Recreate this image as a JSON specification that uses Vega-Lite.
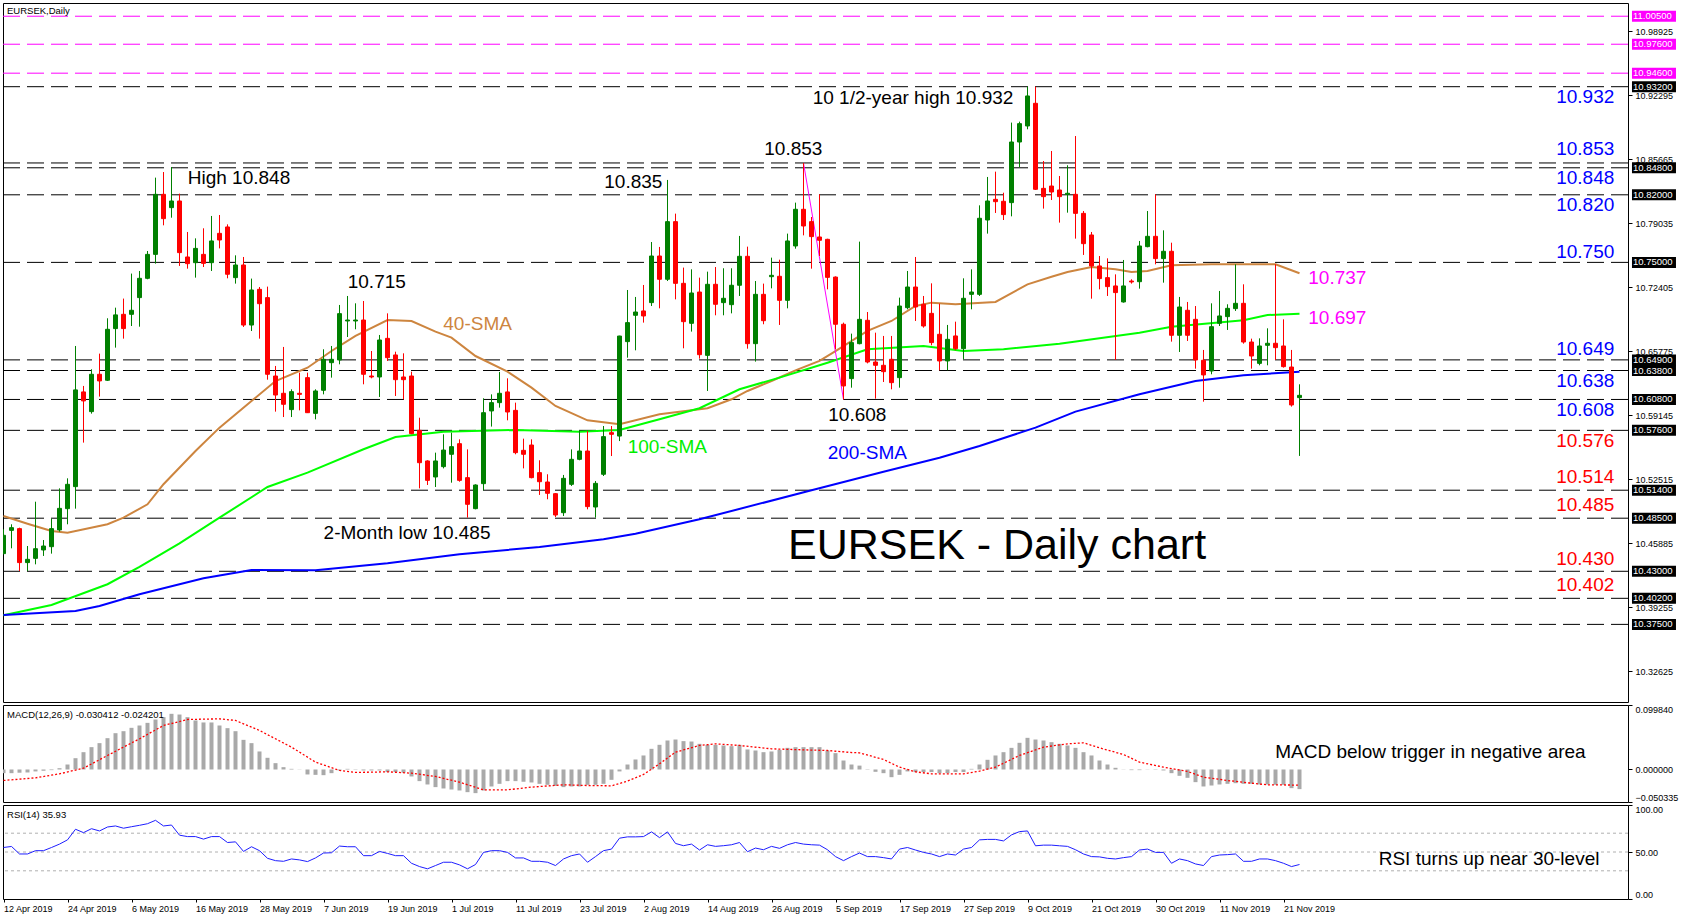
{
"$schema": "https://vega.github.io/schema/vega-lite/v6.json",
"padding": {"left": 2, "top": 2, "right": 0, "bottom": 0},
"background": "white",
"spacing": 3,
"bounds": "flush",
"config": {
  "view": {"stroke": "#000000", "strokeWidth": 1},
  "font": "Liberation Sans",
  "axis": {"labelFont": "Liberation Sans", "labelColor": "#000000", "tickColor": "#000000", "grid": false, "domain": false, "labelFontSize": 9}
},
"datasets": {
  "candles": [
{"i":0,"o":10.4483,"h":10.4735,"l":10.4476,"c":10.4673},
{"i":1,"o":10.4724,"h":10.4787,"l":10.4538,"c":10.4752},
{"i":2,"o":10.4742,"h":10.4752,"l":10.4303,"c":10.4390},
{"i":3,"o":10.4390,"h":10.4562,"l":10.4303,"c":10.4424},
{"i":4,"o":10.4434,"h":10.5021,"l":10.4372,"c":10.4534},
{"i":5,"o":10.4521,"h":10.4624,"l":10.4459,"c":10.4562},
{"i":6,"o":10.4555,"h":10.4845,"l":10.4483,"c":10.4742},
{"i":7,"o":10.4728,"h":10.5159,"l":10.4711,"c":10.4952},
{"i":8,"o":10.4949,"h":10.5263,"l":10.4787,"c":10.5201},
{"i":9,"o":10.5177,"h":10.6634,"l":10.4949,"c":10.6179},
{"i":10,"o":10.6158,"h":10.6220,"l":10.5633,"c":10.6065},
{"i":11,"o":10.5954,"h":10.6393,"l":10.5933,"c":10.6341},
{"i":12,"o":10.6341,"h":10.6555,"l":10.6110,"c":10.6272},
{"i":13,"o":10.6279,"h":10.6921,"l":10.6272,"c":10.6807},
{"i":14,"o":10.6814,"h":10.7031,"l":10.6617,"c":10.6956},
{"i":15,"o":10.6962,"h":10.7125,"l":10.6710,"c":10.6814},
{"i":16,"o":10.6962,"h":10.7384,"l":10.6841,"c":10.7004},
{"i":17,"o":10.7135,"h":10.7411,"l":10.6834,"c":10.7335},
{"i":18,"o":10.7335,"h":10.7618,"l":10.7325,"c":10.7583},
{"i":19,"o":10.7583,"h":10.8378,"l":10.7487,"c":10.8205},
{"i":20,"o":10.8205,"h":10.8436,"l":10.7884,"c":10.7953},
{"i":21,"o":10.8067,"h":10.8488,"l":10.7963,"c":10.8136},
{"i":22,"o":10.8136,"h":10.8212,"l":10.7463,"c":10.7601},
{"i":23,"o":10.7556,"h":10.7815,"l":10.7435,"c":10.7487},
{"i":24,"o":10.7497,"h":10.7749,"l":10.7342,"c":10.7645},
{"i":25,"o":10.7583,"h":10.7853,"l":10.7452,"c":10.7490},
{"i":26,"o":10.7497,"h":10.7981,"l":10.7411,"c":10.7722},
{"i":27,"o":10.7801,"h":10.7991,"l":10.7645,"c":10.7732},
{"i":28,"o":10.7867,"h":10.7894,"l":10.7335,"c":10.7377},
{"i":29,"o":10.7342,"h":10.7573,"l":10.7280,"c":10.7473},
{"i":30,"o":10.7473,"h":10.7556,"l":10.6831,"c":10.6851},
{"i":31,"o":10.6851,"h":10.7332,"l":10.6789,"c":10.7214},
{"i":32,"o":10.7221,"h":10.7245,"l":10.6710,"c":10.7072},
{"i":33,"o":10.7135,"h":10.7249,"l":10.6285,"c":10.6341},
{"i":34,"o":10.6323,"h":10.6427,"l":10.5954,"c":10.6126},
{"i":35,"o":10.6144,"h":10.6624,"l":10.5898,"c":10.6030},
{"i":36,"o":10.5975,"h":10.6185,"l":10.5898,"c":10.6161},
{"i":37,"o":10.6144,"h":10.6358,"l":10.5967,"c":10.6133},
{"i":38,"o":10.6306,"h":10.6358,"l":10.5940,"c":10.5943},
{"i":39,"o":10.5936,"h":10.6185,"l":10.5874,"c":10.6168},
{"i":40,"o":10.6175,"h":10.6600,"l":10.6133,"c":10.6496},
{"i":41,"o":10.6461,"h":10.6634,"l":10.6306,"c":10.6496},
{"i":42,"o":10.6489,"h":10.7059,"l":10.6444,"c":10.6969},
{"i":43,"o":10.6893,"h":10.7152,"l":10.6727,"c":10.6903},
{"i":44,"o":10.6893,"h":10.7076,"l":10.6807,"c":10.6903},
{"i":45,"o":10.6903,"h":10.7100,"l":10.6237,"c":10.6341},
{"i":46,"o":10.6323,"h":10.6582,"l":10.6299,"c":10.6313},
{"i":47,"o":10.6313,"h":10.6748,"l":10.6106,"c":10.6696},
{"i":48,"o":10.6713,"h":10.6972,"l":10.6479,"c":10.6513},
{"i":49,"o":10.6541,"h":10.6575,"l":10.6116,"c":10.6285},
{"i":50,"o":10.6313,"h":10.6558,"l":10.6081,"c":10.6285},
{"i":51,"o":10.6323,"h":10.6368,"l":10.5720,"c":10.5726},
{"i":52,"o":10.5760,"h":10.5891,"l":10.5159,"c":10.5425},
{"i":53,"o":10.5443,"h":10.5450,"l":10.5194,"c":10.5242},
{"i":54,"o":10.5277,"h":10.5529,"l":10.5173,"c":10.5443},
{"i":55,"o":10.5384,"h":10.5719,"l":10.5366,"c":10.5556},
{"i":56,"o":10.5512,"h":10.5736,"l":10.5218,"c":10.5591},
{"i":57,"o":10.5622,"h":10.5667,"l":10.5228,"c":10.5242},
{"i":58,"o":10.5270,"h":10.5563,"l":10.4856,"c":10.4994},
{"i":59,"o":10.4949,"h":10.5201,"l":10.4942,"c":10.5194},
{"i":60,"o":10.5208,"h":10.6092,"l":10.5139,"c":10.5943},
{"i":61,"o":10.5961,"h":10.6133,"l":10.5799,"c":10.6047},
{"i":62,"o":10.6047,"h":10.6365,"l":10.5995,"c":10.6144},
{"i":63,"o":10.6158,"h":10.6299,"l":10.5864,"c":10.5950},
{"i":64,"o":10.5967,"h":10.6047,"l":10.5512,"c":10.5529},
{"i":65,"o":10.5553,"h":10.5674,"l":10.5366,"c":10.5512},
{"i":66,"o":10.5608,"h":10.5667,"l":10.5263,"c":10.5270},
{"i":67,"o":10.5322,"h":10.5450,"l":10.5091,"c":10.5228},
{"i":68,"o":10.5225,"h":10.5305,"l":10.5046,"c":10.5108},
{"i":69,"o":10.5104,"h":10.5110,"l":10.4862,"c":10.4883},
{"i":70,"o":10.4907,"h":10.5298,"l":10.4873,"c":10.5263},
{"i":71,"o":10.5201,"h":10.5563,"l":10.5184,"c":10.5460},
{"i":72,"o":10.5460,"h":10.5760,"l":10.5450,"c":10.5546},
{"i":73,"o":10.5546,"h":10.5753,"l":10.4942,"c":10.4970},
{"i":74,"o":10.4966,"h":10.5235,"l":10.4856,"c":10.5211},
{"i":75,"o":10.5305,"h":10.5805,"l":10.5287,"c":10.5695},
{"i":76,"o":10.5736,"h":10.5805,"l":10.5494,"c":10.5719},
{"i":77,"o":10.5701,"h":10.6740,"l":10.5649,"c":10.6737},
{"i":78,"o":10.6679,"h":10.7214,"l":10.6513,"c":10.6876},
{"i":79,"o":10.6952,"h":10.7142,"l":10.6589,"c":10.6986},
{"i":80,"o":10.6997,"h":10.7266,"l":10.6876,"c":10.6945},
{"i":81,"o":10.7083,"h":10.7711,"l":10.7048,"c":10.7566},
{"i":82,"o":10.7566,"h":10.7660,"l":10.7024,"c":10.7325},
{"i":83,"o":10.7325,"h":10.8354,"l":10.7307,"c":10.7922},
{"i":84,"o":10.7922,"h":10.8005,"l":10.7117,"c":10.7283},
{"i":85,"o":10.7283,"h":10.7446,"l":10.6610,"c":10.6886},
{"i":86,"o":10.6869,"h":10.7428,"l":10.6783,"c":10.7183},
{"i":87,"o":10.7193,"h":10.7342,"l":10.6503,"c":10.6544},
{"i":88,"o":10.6537,"h":10.7404,"l":10.6168,"c":10.7273},
{"i":89,"o":10.7273,"h":10.7452,"l":10.6952,"c":10.7066},
{"i":90,"o":10.7083,"h":10.7439,"l":10.6952,"c":10.7128},
{"i":91,"o":10.7062,"h":10.7439,"l":10.6972,"c":10.7263},
{"i":92,"o":10.7263,"h":10.7774,"l":10.7152,"c":10.7563},
{"i":93,"o":10.7563,"h":10.7663,"l":10.6606,"c":10.6658},
{"i":94,"o":10.6658,"h":10.7307,"l":10.6472,"c":10.7169},
{"i":95,"o":10.7169,"h":10.7280,"l":10.6859,"c":10.6896},
{"i":96,"o":10.7352,"h":10.7549,"l":10.7231,"c":10.7366},
{"i":97,"o":10.7356,"h":10.7528,"l":10.6852,"c":10.7107},
{"i":98,"o":10.7107,"h":10.7798,"l":10.7024,"c":10.7722},
{"i":99,"o":10.7670,"h":10.8119,"l":10.7642,"c":10.8050},
{"i":100,"o":10.8050,"h":10.8530,"l":10.7780,"c":10.7877},
{"i":101,"o":10.7922,"h":10.7970,"l":10.7435,"c":10.7767},
{"i":102,"o":10.7763,"h":10.8205,"l":10.7566,"c":10.7729},
{"i":103,"o":10.7739,"h":10.7745,"l":10.7221,"c":10.7345},
{"i":104,"o":10.7348,"h":10.7355,"l":10.6600,"c":10.6859},
{"i":105,"o":10.6859,"h":10.6876,"l":10.6080,"c":10.6220},
{"i":106,"o":10.6296,"h":10.6762,"l":10.6202,"c":10.6669},
{"i":107,"o":10.6658,"h":10.7715,"l":10.6651,"c":10.6910},
{"i":108,"o":10.6900,"h":10.6986,"l":10.6454,"c":10.6468},
{"i":109,"o":10.6468,"h":10.6772,"l":10.6088,"c":10.6434},
{"i":110,"o":10.6434,"h":10.6738,"l":10.6261,"c":10.6368},
{"i":111,"o":10.6496,"h":10.6738,"l":10.6185,"c":10.6254},
{"i":112,"o":10.6306,"h":10.7135,"l":10.6202,"c":10.7048},
{"i":113,"o":10.7031,"h":10.7411,"l":10.7014,"c":10.7245},
{"i":114,"o":10.7245,"h":10.7556,"l":10.6893,"c":10.7038},
{"i":115,"o":10.7066,"h":10.7152,"l":10.6824,"c":10.6841},
{"i":116,"o":10.6972,"h":10.7283,"l":10.6641,"c":10.6669},
{"i":117,"o":10.6755,"h":10.7073,"l":10.6382,"c":10.6479},
{"i":118,"o":10.6479,"h":10.6852,"l":10.6382,"c":10.6703},
{"i":119,"o":10.6738,"h":10.6886,"l":10.6589,"c":10.6606},
{"i":120,"o":10.6606,"h":10.7335,"l":10.6496,"c":10.7128},
{"i":121,"o":10.7169,"h":10.7428,"l":10.7014,"c":10.7193},
{"i":122,"o":10.7169,"h":10.8091,"l":10.7152,"c":10.7957},
{"i":123,"o":10.7939,"h":10.8385,"l":10.7798,"c":10.8136},
{"i":124,"o":10.8153,"h":10.8440,"l":10.8012,"c":10.8129},
{"i":125,"o":10.8133,"h":10.8222,"l":10.7939,"c":10.7995},
{"i":126,"o":10.8119,"h":10.8948,"l":10.7977,"c":10.8747},
{"i":127,"o":10.8747,"h":10.8958,"l":10.8488,"c":10.8937},
{"i":128,"o":10.8913,"h":10.9320,"l":10.8879,"c":10.9224},
{"i":129,"o":10.9148,"h":10.9320,"l":10.8250,"c":10.8257},
{"i":130,"o":10.8267,"h":10.8550,"l":10.8057,"c":10.8181},
{"i":131,"o":10.8291,"h":10.8654,"l":10.8146,"c":10.8229},
{"i":132,"o":10.8250,"h":10.8395,"l":10.7912,"c":10.8181},
{"i":133,"o":10.8205,"h":10.8506,"l":10.8015,"c":10.8216},
{"i":134,"o":10.8205,"h":10.8809,"l":10.7746,"c":10.8008},
{"i":135,"o":10.8008,"h":10.8032,"l":10.7577,"c":10.7694},
{"i":136,"o":10.7784,"h":10.7815,"l":10.7124,"c":10.7463},
{"i":137,"o":10.7463,"h":10.7566,"l":10.7221,"c":10.7332},
{"i":138,"o":10.7342,"h":10.7542,"l":10.7152,"c":10.7249},
{"i":139,"o":10.7256,"h":10.7376,"l":10.6489,"c":10.7187},
{"i":140,"o":10.7090,"h":10.7525,"l":10.7083,"c":10.7256},
{"i":141,"o":10.7307,"h":10.7325,"l":10.7280,"c":10.7297},
{"i":142,"o":10.7300,"h":10.7722,"l":10.7228,"c":10.7670},
{"i":143,"o":10.7663,"h":10.8032,"l":10.7656,"c":10.7770},
{"i":144,"o":10.7770,"h":10.8205,"l":10.7480,"c":10.7539},
{"i":145,"o":10.7539,"h":10.7832,"l":10.7290,"c":10.7615},
{"i":146,"o":10.7615,"h":10.7704,"l":10.6679,"c":10.6745},
{"i":147,"o":10.6745,"h":10.7142,"l":10.6572,"c":10.7038},
{"i":148,"o":10.7004,"h":10.7090,"l":10.6686,"c":10.6745},
{"i":149,"o":10.6910,"h":10.7048,"l":10.6399,"c":10.6489},
{"i":150,"o":10.6486,"h":10.6593,"l":10.6057,"c":10.6334},
{"i":151,"o":10.6375,"h":10.7076,"l":10.6341,"c":10.6834},
{"i":152,"o":10.6869,"h":10.7204,"l":10.6841,"c":10.6945},
{"i":153,"o":10.6938,"h":10.7066,"l":10.6800,"c":10.7024},
{"i":154,"o":10.7021,"h":10.7480,"l":10.6997,"c":10.7076},
{"i":155,"o":10.7076,"h":10.7273,"l":10.6658,"c":10.6675},
{"i":156,"o":10.6675,"h":10.6710,"l":10.6399,"c":10.6530},
{"i":157,"o":10.6454,"h":10.6713,"l":10.6434,"c":10.6634},
{"i":158,"o":10.6641,"h":10.6817,"l":10.6434,"c":10.6662},
{"i":159,"o":10.6662,"h":10.7480,"l":10.6489,"c":10.6617},
{"i":160,"o":10.6634,"h":10.6910,"l":10.6410,"c":10.6420},
{"i":161,"o":10.6416,"h":10.6593,"l":10.6006,"c":10.6023},
{"i":162,"o":10.6099,"h":10.6237,"l":10.5495,"c":10.6123}
  ],
  "sma": [
{"s":"40","i":0,"v":10.4873},{"s":"40","i":3,"v":10.4793},{"s":"40","i":6,"v":10.4718},{"s":"40","i":8,"v":10.4700},{"s":"40","i":13,"v":10.4787},{"s":"40","i":15,"v":10.4855},{"s":"40","i":18,"v":10.4994},{"s":"40","i":20,"v":10.5202},{"s":"40","i":24,"v":10.5546},{"s":"40","i":27,"v":10.5788},{"s":"40","i":31,"v":10.6064},{"s":"40","i":34,"v":10.6271},{"s":"40","i":38,"v":10.6409},{"s":"40","i":41,"v":10.6582},{"s":"40","i":44,"v":10.6738},{"s":"40","i":48,"v":10.6903},{"s":"40","i":51,"v":10.6893},{"s":"40","i":54,"v":10.6782},{"s":"40","i":56,"v":10.6720},{"s":"40","i":59,"v":10.6530},{"s":"40","i":63,"v":10.6368},{"s":"40","i":66,"v":10.6202},{"s":"40","i":69,"v":10.6013},{"s":"40","i":73,"v":10.5864},{"s":"40","i":77,"v":10.5823},{"s":"40","i":82,"v":10.5926},{"s":"40","i":88,"v":10.5989},{"s":"40","i":91,"v":10.6082},{"s":"40","i":93,"v":10.6168},{"s":"40","i":96,"v":10.6271},{"s":"40","i":99,"v":10.6382},{"s":"40","i":102,"v":10.6479},{"s":"40","i":104,"v":10.6580},{"s":"40","i":108,"v":10.6790},{"s":"40","i":111,"v":10.6893},{"s":"40","i":114,"v":10.7048},{"s":"40","i":116,"v":10.7083},{"s":"40","i":119,"v":10.7066},{"s":"40","i":124,"v":10.7090},{"s":"40","i":128,"v":10.7273},{"s":"40","i":131,"v":10.7352},{"s":"40","i":133,"v":10.7401},{"s":"40","i":136,"v":10.7452},{"s":"40","i":139,"v":10.7429},{"s":"40","i":141,"v":10.7401},{"s":"40","i":143,"v":10.7411},{"s":"40","i":146,"v":10.7470},{"s":"40","i":151,"v":10.7480},{"s":"40","i":155,"v":10.7480},{"s":"40","i":159,"v":10.7480},{"s":"40","i":162,"v":10.7387},
{"s":"100","i":0,"v":10.3844},{"s":"100","i":6,"v":10.3951},{"s":"100","i":13,"v":10.4166},{"s":"100","i":17,"v":10.4345},{"s":"100","i":22,"v":10.4590},{"s":"100","i":27,"v":10.4855},{"s":"100","i":33,"v":10.5173},{"s":"100","i":38,"v":10.5322},{"s":"100","i":45,"v":10.5564},{"s":"100","i":49,"v":10.5691},{"s":"100","i":55,"v":10.5746},{"s":"100","i":64,"v":10.5764},{"s":"100","i":72,"v":10.5746},{"s":"100","i":77,"v":10.5764},{"s":"100","i":82,"v":10.5875},{"s":"100","i":87,"v":10.5989},{"s":"100","i":92,"v":10.6186},{"s":"100","i":97,"v":10.6306},{"s":"100","i":103,"v":10.6461},{"s":"100","i":108,"v":10.6600},{"s":"100","i":115,"v":10.6634},{"s":"100","i":120,"v":10.6582},{"s":"100","i":125,"v":10.6600},{"s":"100","i":132,"v":10.6658},{"s":"100","i":142,"v":10.6772},{"s":"100","i":146,"v":10.6834},{"s":"100","i":155,"v":10.6900},{"s":"100","i":158,"v":10.6955},{"s":"100","i":162,"v":10.6969},
{"s":"200","i":0,"v":10.3848},{"s":"200","i":9,"v":10.3889},{"s":"200","i":12,"v":10.3941},{"s":"200","i":17,"v":10.4062},{"s":"200","i":25,"v":10.4228},{"s":"200","i":31,"v":10.4314},{"s":"200","i":39,"v":10.4311},{"s":"200","i":48,"v":10.4383},{"s":"200","i":57,"v":10.4476},{"s":"200","i":67,"v":10.4552},{"s":"200","i":75,"v":10.4632},{"s":"200","i":79,"v":10.4690},{"s":"200","i":87,"v":10.4839},{"s":"200","i":101,"v":10.5139},{"s":"200","i":110,"v":10.5332},{"s":"200","i":117,"v":10.5477},{"s":"200","i":122,"v":10.5598},{"s":"200","i":129,"v":10.5788},{"s":"200","i":134,"v":10.5954},{"s":"200","i":142,"v":10.6134},{"s":"200","i":149,"v":10.6271},{"s":"200","i":155,"v":10.6331},{"s":"200","i":162,"v":10.6368}
  ],
  "trend": [{"i":100,"v":10.853},{"i":105,"v":10.608}],
  "levels": [
{"v":11.005,"k":"mag"},{"v":10.976,"k":"mag"},{"v":10.946,"k":"mag"},
{"v":10.932,"k":"lvl"},{"v":10.853,"k":"lvl"},{"v":10.848,"k":"lvl"},{"v":10.82,"k":"lvl"},{"v":10.75,"k":"lvl"},{"v":10.649,"k":"lvl"},{"v":10.638,"k":"lvl"},{"v":10.608,"k":"lvl"},{"v":10.576,"k":"lvl"},{"v":10.514,"k":"lvl"},{"v":10.485,"k":"lvl"},{"v":10.43,"k":"lvl"},{"v":10.402,"k":"lvl"},{"v":10.375,"k":"lvl"}
  ],
  "notes": [
{"i":23.03,"v":10.8309,"t":"High 10.848","k":"n"},
{"i":43.03,"v":10.7232,"t":"10.715","k":"n"},
{"i":54.97,"v":10.6797,"t":"40-SMA","k":"s40"},
{"i":75.1,"v":10.8274,"t":"10.835","k":"n"},
{"i":78.03,"v":10.5529,"t":"100-SMA","k":"s100"},
{"i":95.1,"v":10.8609,"t":"10.853","k":"n"},
{"i":101.15,"v":10.9138,"t":"10 1/2-year high 10.932","k":"n"},
{"i":103.1,"v":10.5857,"t":"10.608","k":"n"},
{"i":103.03,"v":10.546,"t":"200-SMA","k":"s200"},
{"i":40.01,"v":10.4632,"t":"2-Month low 10.485","k":"n"},
{"i":163.1,"v":10.7279,"t":"10.737","k":"m"},
{"i":163.1,"v":10.6859,"t":"10.697","k":"m"}
  ],
  "rlabels": [
{"v":10.9154,"t":"10.932","k":"r"},{"v":10.8609,"t":"10.853","k":"r"},{"v":10.8315,"t":"10.848","k":"r"},{"v":10.8032,"t":"10.820","k":"r"},{"v":10.7549,"t":"10.750","k":"r"},{"v":10.6538,"t":"10.649","k":"r"},{"v":10.6209,"t":"10.638","k":"r"},{"v":10.5909,"t":"10.608","k":"r"},
{"v":10.5588,"t":"10.576","k":"s"},{"v":10.5212,"t":"10.514","k":"s"},{"v":10.4925,"t":"10.485","k":"s"},{"v":10.4363,"t":"10.430","k":"s"},{"v":10.4096,"t":"10.402","k":"s"}
  ],
  "macd": [
{"i":0,"h":-0.0057},{"i":1,"h":-0.0057},{"i":2,"h":-0.005},{"i":3,"h":-0.0046},{"i":4,"h":-0.003},{"i":5,"h":-0.002},{"i":6,"h":-0.001},{"i":7,"h":0.002},{"i":8,"h":0.0077},{"i":9,"h":0.0175},
{"i":10,"h":0.0268},{"i":11,"h":0.0346},{"i":12,"h":0.0408},{"i":13,"h":0.0485},{"i":14,"h":0.0562},{"i":15,"h":0.0593},{"i":16,"h":0.0645},{"i":17,"h":0.0681},{"i":18,"h":0.0722},{"i":19,"h":0.0774},
{"i":20,"h":0.081},{"i":21,"h":0.0862},{"i":22,"h":0.0851},{"i":23,"h":0.081},{"i":24,"h":0.0759},{"i":25,"h":0.0728},{"i":26,"h":0.0728},{"i":27,"h":0.0681},{"i":28,"h":0.064},{"i":29,"h":0.0593},
{"i":30,"h":0.0459},{"i":31,"h":0.0408},{"i":32,"h":0.0279},{"i":33,"h":0.0181},{"i":34,"h":0.0098},{"i":35,"h":0.0036},{"i":36,"h":0.001},{"i":37,"h":0.0003},{"i":38,"h":-0.0077},{"i":39,"h":-0.0083},
{"i":40,"h":-0.0088},{"i":41,"h":-0.0057},{"i":42,"h":-0.0015},{"i":43,"h":0.001},{"i":44,"h":0.0005},{"i":45,"h":-0.0015},{"i":46,"h":-0.0015},{"i":47,"h":-0.0015},{"i":48,"h":-0.004},{"i":49,"h":-0.004},
{"i":50,"h":-0.005},{"i":51,"h":-0.0108},{"i":52,"h":-0.018},{"i":53,"h":-0.0232},{"i":54,"h":-0.0273},{"i":55,"h":-0.0294},{"i":56,"h":-0.031},{"i":57,"h":-0.0325},{"i":58,"h":-0.0351},{"i":59,"h":-0.0366},
{"i":60,"h":-0.0325},{"i":61,"h":-0.0263},{"i":62,"h":-0.0222},{"i":63,"h":-0.018},{"i":64,"h":-0.018},{"i":65,"h":-0.019},{"i":66,"h":-0.0201},{"i":67,"h":-0.0222},{"i":68,"h":-0.0237},{"i":69,"h":-0.0253},
{"i":70,"h":-0.0273},{"i":71,"h":-0.0263},{"i":72,"h":-0.0263},{"i":73,"h":-0.0237},{"i":74,"h":-0.0237},{"i":75,"h":-0.0222},{"i":76,"h":-0.016},{"i":77,"h":-0.003},{"i":78,"h":0.0077},{"i":79,"h":0.0155},
{"i":80,"h":0.0217},{"i":81,"h":0.032},{"i":82,"h":0.0382},{"i":83,"h":0.0449},{"i":84,"h":0.0464},{"i":85,"h":0.0439},{"i":86,"h":0.0433},{"i":87,"h":0.0397},{"i":88,"h":0.0382},{"i":89,"h":0.0382},
{"i":90,"h":0.0372},{"i":91,"h":0.0361},{"i":92,"h":0.0382},{"i":93,"h":0.031},{"i":94,"h":0.0294},{"i":95,"h":0.0268},{"i":96,"h":0.0279},{"i":97,"h":0.0304},{"i":98,"h":0.0335},{"i":99,"h":0.0346},
{"i":100,"h":0.0346},{"i":101,"h":0.0346},{"i":102,"h":0.0346},{"i":103,"h":0.0294},{"i":104,"h":0.0253},{"i":105,"h":0.0139},{"i":106,"h":0.0077},{"i":107,"h":0.006},{"i":108,"h":0.0005},{"i":109,"h":-0.0036},
{"i":110,"h":-0.0057},{"i":111,"h":-0.0119},{"i":112,"h":-0.0083},{"i":113,"h":-0.003},{"i":114,"h":-0.004},{"i":115,"h":-0.004},{"i":116,"h":-0.004},{"i":117,"h":-0.0057},{"i":118,"h":-0.0057},{"i":119,"h":-0.004},
{"i":120,"h":-0.004},{"i":121,"h":0.001},{"i":122,"h":0.0077},{"i":123,"h":0.015},{"i":124,"h":0.0217},{"i":125,"h":0.0268},{"i":126,"h":0.0335},{"i":127,"h":0.0413},{"i":128,"h":0.049},{"i":129,"h":0.0464},
{"i":130,"h":0.0449},{"i":131,"h":0.0423},{"i":132,"h":0.0397},{"i":133,"h":0.0372},{"i":134,"h":0.0335},{"i":135,"h":0.0268},{"i":136,"h":0.0217},{"i":137,"h":0.0139},{"i":138,"h":0.0077},{"i":139,"h":0.0026},
{"i":140,"h":0.0003},{"i":141,"h":-0.001},{"i":142,"h":-0.001},{"i":143,"h":0.0003},{"i":144,"h":-0.0005},{"i":145,"h":-0.0015},{"i":146,"h":-0.0057},{"i":147,"h":-0.0098},{"i":148,"h":-0.0129},{"i":149,"h":-0.0196},
{"i":150,"h":-0.0263},{"i":151,"h":-0.0248},{"i":152,"h":-0.0232},{"i":153,"h":-0.0222},{"i":154,"h":-0.0212},{"i":155,"h":-0.0222},{"i":156,"h":-0.0222},{"i":157,"h":-0.0232},{"i":158,"h":-0.0232},{"i":159,"h":-0.0237},
{"i":160,"h":-0.0237},{"i":161,"h":-0.0289},{"i":162,"h":-0.0304}
  ],
  "signal": [
{"i":0,"s":-0.017},{"i":4,"s":-0.0129},{"i":7,"s":-0.0067},{"i":10,"s":0.002},{"i":13,"s":0.0217},{"i":17,"s":0.0475},{"i":20,"s":0.0681},{"i":23,"s":0.0774},{"i":27,"s":0.0784},{"i":29,"s":0.0759},{"i":32,"s":0.0604},{"i":36,"s":0.0346},{"i":39,"s":0.0114},{"i":42,"s":-0.0015},{"i":44,"s":-0.0046},{"i":48,"s":-0.0036},{"i":51,"s":-0.0057},{"i":54,"s":-0.0108},{"i":57,"s":-0.0196},{"i":60,"s":-0.0315},{"i":63,"s":-0.0315},{"i":66,"s":-0.0273},{"i":70,"s":-0.0237},{"i":73,"s":-0.0248},{"i":76,"s":-0.0253},{"i":78,"s":-0.018},{"i":80,"s":-0.0077},{"i":82,"s":0.0088},{"i":84,"s":0.0268},{"i":87,"s":0.0372},{"i":89,"s":0.0397},{"i":92,"s":0.0372},{"i":96,"s":0.032},{"i":100,"s":0.0304},{"i":103,"s":0.0294},{"i":106,"s":0.0263},{"i":107,"s":0.0258},{"i":110,"s":0.0155},{"i":112,"s":0.0036},{"i":114,"s":-0.0036},{"i":116,"s":-0.0067},{"i":120,"s":-0.0067},{"i":122,"s":-0.0026},{"i":124,"s":0.0036},{"i":127,"s":0.0217},{"i":130,"s":0.0346},{"i":133,"s":0.0397},{"i":135,"s":0.0413},{"i":137,"s":0.0335},{"i":140,"s":0.0232},{"i":142,"s":0.0114},{"i":145,"s":0.0036},{"i":148,"s":-0.003},{"i":150,"s":-0.0119},{"i":153,"s":-0.017},{"i":156,"s":-0.0212},{"i":158,"s":-0.0237},{"i":162,"s":-0.0242}
  ],
  "rsi": [
{"i":0,"r":54.8},{"i":1,"r":55.9},{"i":2,"r":47.9},{"i":3,"r":47.9},{"i":4,"r":51.4},{"i":5,"r":51.4},{"i":6,"r":54.8},{"i":7,"r":58.4},{"i":8,"r":62.9},{"i":9,"r":74.2},
{"i":10,"r":70.6},{"i":11,"r":74.8},{"i":12,"r":72.4},{"i":13,"r":76.6},{"i":14,"r":77.7},{"i":15,"r":75.3},{"i":16,"r":76.9},{"i":17,"r":78.4},{"i":18,"r":80.1},{"i":19,"r":83.7},
{"i":20,"r":77.7},{"i":21,"r":78.7},{"i":22,"r":67.9},{"i":23,"r":66.4},{"i":24,"r":66.4},{"i":25,"r":63.7},{"i":26,"r":66.4},{"i":27,"r":66.4},{"i":28,"r":60.1},{"i":29,"r":60.8},
{"i":30,"r":50.6},{"i":31,"r":55.6},{"i":32,"r":51.4},{"i":33,"r":43.3},{"i":34,"r":40.8},{"i":35,"r":40.1},{"i":36,"r":42.6},{"i":37,"r":41.6},{"i":38,"r":39.8},{"i":39,"r":43.7},
{"i":40,"r":48.9},{"i":41,"r":49.2},{"i":42,"r":56.3},{"i":43,"r":55.6},{"i":44,"r":55.6},{"i":45,"r":46.1},{"i":46,"r":46.1},{"i":47,"r":50.6},{"i":48,"r":48.5},{"i":49,"r":46.1},
{"i":50,"r":46.1},{"i":51,"r":38},{"i":52,"r":34.5},{"i":53,"r":32.1},{"i":54,"r":35.6},{"i":55,"r":39.1},{"i":56,"r":39.1},{"i":57,"r":36.3},{"i":58,"r":32.1},{"i":59,"r":36.7},
{"i":60,"r":49.6},{"i":61,"r":51.4},{"i":62,"r":51.4},{"i":63,"r":49.6},{"i":64,"r":43.7},{"i":65,"r":43.7},{"i":66,"r":40.1},{"i":67,"r":40.1},{"i":68,"r":39.1},{"i":69,"r":35.6},
{"i":70,"r":42.6},{"i":71,"r":46.1},{"i":72,"r":47.9},{"i":73,"r":39.1},{"i":74,"r":45.1},{"i":75,"r":51.4},{"i":76,"r":53.1},{"i":77,"r":64.7},{"i":78,"r":66.1},{"i":79,"r":66.1},
{"i":80,"r":66.4},{"i":81,"r":71.4},{"i":82,"r":65.3},{"i":83,"r":71.4},{"i":84,"r":59.1},{"i":85,"r":56.7},{"i":86,"r":58.4},{"i":87,"r":52.1},{"i":88,"r":57.7},{"i":89,"r":56},
{"i":90,"r":56.7},{"i":91,"r":57.7},{"i":92,"r":60.1},{"i":93,"r":50.3},{"i":94,"r":54.2},{"i":95,"r":52.4},{"i":96,"r":56},{"i":97,"r":53.9},{"i":98,"r":57.7},{"i":99,"r":60.1},
{"i":100,"r":58.4},{"i":101,"r":57.7},{"i":102,"r":57.3},{"i":103,"r":52.4},{"i":104,"r":45.1},{"i":105,"r":40.8},{"i":106,"r":45.1},{"i":107,"r":48.9},{"i":108,"r":45.1},{"i":109,"r":45.1},
{"i":110,"r":44},{"i":111,"r":42.6},{"i":112,"r":53.1},{"i":113,"r":54.8},{"i":114,"r":52.1},{"i":115,"r":49.6},{"i":116,"r":47.9},{"i":117,"r":45.1},{"i":118,"r":47.9},{"i":119,"r":46.8},
{"i":120,"r":53.1},{"i":121,"r":54.8},{"i":122,"r":62.9},{"i":123,"r":63.4},{"i":124,"r":63.4},{"i":125,"r":61.8},{"i":126,"r":68.2},{"i":127,"r":71.7},{"i":128,"r":72.4},{"i":129,"r":56.6},
{"i":130,"r":57.3},{"i":131,"r":57.3},{"i":132,"r":56.6},{"i":133,"r":56},{"i":134,"r":52.4},{"i":135,"r":47.9},{"i":136,"r":45.1},{"i":137,"r":44.8},{"i":138,"r":43.3},{"i":139,"r":42.6},
{"i":140,"r":44},{"i":141,"r":45.1},{"i":142,"r":52.1},{"i":143,"r":53.1},{"i":144,"r":49.6},{"i":145,"r":49.6},{"i":146,"r":38},{"i":147,"r":42.6},{"i":148,"r":40.8},{"i":149,"r":37.3},
{"i":150,"r":35.6},{"i":151,"r":45.1},{"i":152,"r":46.8},{"i":153,"r":47.2},{"i":154,"r":47.9},{"i":155,"r":40.1},{"i":156,"r":40.1},{"i":157,"r":42.6},{"i":158,"r":42.6},{"i":159,"r":40.8},
{"i":160,"r":38},{"i":161,"r":34.5},{"i":162,"r":36.7}
  ],
  "rsilev": [{"r":30},{"r":50},{"r":70}]
},
"vconcat": [
{
  "width": 1625, "height": 699,
  "resolve": {"scale": {"color": "independent"}},
  "layer": [
    {
      "data": {"name": "levels"},
      "mark": {"type": "rule", "strokeDash": [17, 7], "strokeWidth": 1},
      "encoding": {
        "y": {"field": "v", "type": "quantitative", "scale": {"domain": [10.2946, 11.0187], "nice": false, "zero": false, "padding": 0},
              "axis": {"orient": "right", "title": null, "values": [10.98925,10.9561,10.92295,10.8898,10.85665,10.8235,10.79035,10.7572,10.72405,10.6909,10.65775,10.6246,10.59145,10.5583,10.52515,10.492,10.45885,10.4257,10.39255,10.3594,10.32625], "format": ".5f", "tickSize": 4, "labelPadding": 3, "labelFlush": false, "labelOverlap": false, "labelBound": false}},
        "color": {"field": "k", "type": "nominal", "scale": {"domain": ["lvl", "mag"], "range": ["#000000", "#FF00FF"]}, "legend": null}
      }
    },
    {
      "data": {"name": "sma"},
      "mark": {"type": "line", "strokeWidth": 2, "clip": true},
      "encoding": {
        "x": {"field": "i", "type": "quantitative", "scale": {"domain": [-0.0625, 203.0625], "nice": false, "zero": false, "padding": 0}, "axis": null},
        "y": {"field": "v", "type": "quantitative",
              "axis": {"orient": "right", "title": null, "values": [10.98925,10.9561,10.92295,10.8898,10.85665,10.8235,10.79035,10.7572,10.72405,10.6909,10.65775,10.6246,10.59145,10.5583,10.52515,10.492,10.45885,10.4257,10.39255,10.3594,10.32625], "format": ".5f", "tickSize": 4, "labelPadding": 3, "labelFlush": false, "labelOverlap": false, "labelBound": false}},
        "color": {"field": "s", "type": "nominal", "scale": {"domain": ["40", "100", "200"], "range": ["#CD853F", "#00FF00", "#0000FF"]}, "legend": null}
      }
    },
    {
      "data": {"name": "trend"},
      "mark": {"type": "line", "strokeWidth": 1, "color": "#FF00FF"},
      "encoding": {
        "x": {"field": "i", "type": "quantitative", "axis": null},
        "y": {"field": "v", "type": "quantitative",
              "axis": {"orient": "right", "title": null, "values": [10.98925,10.9561,10.92295,10.8898,10.85665,10.8235,10.79035,10.7572,10.72405,10.6909,10.65775,10.6246,10.59145,10.5583,10.52515,10.492,10.45885,10.4257,10.39255,10.3594,10.32625], "format": ".5f", "tickSize": 4, "labelPadding": 3, "labelFlush": false, "labelOverlap": false, "labelBound": false}}
      }
    },
    {
      "data": {"name": "candles"},
      "mark": {"type": "rule", "strokeWidth": 1, "clip": true},
      "encoding": {
        "x": {"field": "i", "type": "quantitative", "axis": null},
        "y": {"field": "l", "type": "quantitative",
              "axis": {"orient": "right", "title": null, "values": [10.98925,10.9561,10.92295,10.8898,10.85665,10.8235,10.79035,10.7572,10.72405,10.6909,10.65775,10.6246,10.59145,10.5583,10.52515,10.492,10.45885,10.4257,10.39255,10.3594,10.32625], "format": ".5f", "tickSize": 4, "labelPadding": 3, "labelFlush": false, "labelOverlap": false, "labelBound": false}},
        "y2": {"field": "h"},
        "color": {"condition": {"test": "datum.c >= datum.o", "value": "#008000"}, "value": "#FF0000"}
      }
    },
    {
      "data": {"name": "candles"},
      "mark": {"type": "bar", "size": 4, "strokeWidth": 1, "clip": true},
      "encoding": {
        "x": {"field": "i", "type": "quantitative", "axis": null},
        "y": {"field": "o", "type": "quantitative",
              "axis": {"orient": "right", "title": null, "values": [10.98925,10.9561,10.92295,10.8898,10.85665,10.8235,10.79035,10.7572,10.72405,10.6909,10.65775,10.6246,10.59145,10.5583,10.52515,10.492,10.45885,10.4257,10.39255,10.3594,10.32625], "format": ".5f", "tickSize": 4, "labelPadding": 3, "labelFlush": false, "labelOverlap": false, "labelBound": false}},
        "y2": {"field": "c"},
        "color": {"condition": {"test": "datum.c >= datum.o", "value": "#008000"}, "value": "#FF0000"},
        "stroke": {"condition": {"test": "datum.c >= datum.o", "value": "#008000"}, "value": "#FF0000"}
      }
    },
    {
      "data": {"name": "notes"},
      "mark": {"type": "text", "align": "left", "baseline": "alphabetic", "fontSize": 19, "font": "Liberation Sans"},
      "encoding": {
        "x": {"field": "i", "type": "quantitative", "axis": null},
        "y": {"field": "v", "type": "quantitative",
              "axis": {"orient": "right", "title": null, "values": [10.98925,10.9561,10.92295,10.8898,10.85665,10.8235,10.79035,10.7572,10.72405,10.6909,10.65775,10.6246,10.59145,10.5583,10.52515,10.492,10.45885,10.4257,10.39255,10.3594,10.32625], "format": ".5f", "tickSize": 4, "labelPadding": 3, "labelFlush": false, "labelOverlap": false, "labelBound": false}},
        "text": {"field": "t"},
        "color": {"field": "k", "type": "nominal", "scale": {"domain": ["n", "s40", "s100", "s200", "m"], "range": ["#000000", "#CD853F", "#00EE00", "#0000FF", "#FF00FF"]}, "legend": null}
      }
    },
    {
      "data": {"name": "rlabels"},
      "mark": {"type": "text", "align": "right", "baseline": "alphabetic", "fontSize": 19, "font": "Liberation Sans"},
      "encoding": {
        "x": {"datum": 201.35},
        "y": {"field": "v", "type": "quantitative",
              "axis": {"orient": "right", "title": null, "values": [10.98925,10.9561,10.92295,10.8898,10.85665,10.8235,10.79035,10.7572,10.72405,10.6909,10.65775,10.6246,10.59145,10.5583,10.52515,10.492,10.45885,10.4257,10.39255,10.3594,10.32625], "format": ".5f", "tickSize": 4, "labelPadding": 3, "labelFlush": false, "labelOverlap": false, "labelBound": false}},
        "text": {"field": "t"},
        "color": {"field": "k", "type": "nominal", "scale": {"domain": ["r", "s"], "range": ["#0000FF", "#FF0000"]}, "legend": null}
      }
    },
    {
      "data": {"values": [{"t": "EURSEK - Daily chart"}]},
      "mark": {"type": "text", "align": "left", "baseline": "alphabetic", "fontSize": 43, "font": "Liberation Sans", "color": "#000000"},
      "encoding": {
        "x": {"datum": 98.06},
        "y": {"datum": 10.4431},
        "text": {"field": "t"}
      }
    },
    {
      "data": {"name": "levels"},
      "transform": [{"filter": "datum.v != 10.853"}],
      "mark": {"type": "bar", "orient": "horizontal", "size": 11},
      "encoding": {
        "x": {"datum": 203.56},
        "x2": {"datum": 209.06},
        "y": {"field": "v", "type": "quantitative",
              "axis": {"orient": "right", "title": null, "values": [10.98925,10.9561,10.92295,10.8898,10.85665,10.8235,10.79035,10.7572,10.72405,10.6909,10.65775,10.6246,10.59145,10.5583,10.52515,10.492,10.45885,10.4257,10.39255,10.3594,10.32625], "format": ".5f", "tickSize": 4, "labelPadding": 3, "labelFlush": false, "labelOverlap": false, "labelBound": false}},
        "color": {"field": "k", "type": "nominal", "scale": {"domain": ["lvl", "mag"], "range": ["#000000", "#FF00FF"]}, "legend": null}
      }
    },
    {
      "data": {"name": "levels"},
      "transform": [{"filter": "datum.v != 10.853"}],
      "mark": {"type": "text", "align": "left", "baseline": "middle", "fontSize": 9.5, "font": "Liberation Sans", "color": "#FFFFFF", "dx": 1},
      "encoding": {
        "x": {"datum": 203.56},
        "y": {"field": "v", "type": "quantitative",
              "axis": {"orient": "right", "title": null, "values": [10.98925,10.9561,10.92295,10.8898,10.85665,10.8235,10.79035,10.7572,10.72405,10.6909,10.65775,10.6246,10.59145,10.5583,10.52515,10.492,10.45885,10.4257,10.39255,10.3594,10.32625], "format": ".5f", "tickSize": 4, "labelPadding": 3, "labelFlush": false, "labelOverlap": false, "labelBound": false}},
        "text": {"field": "v", "type": "quantitative", "format": ".5f"}
      }
    },
    {
      "data": {"values": [{"t": "EURSEK,Daily"}]},
      "mark": {"type": "text", "align": "left", "baseline": "middle", "fontSize": 9.5, "font": "Liberation Sans", "color": "#000000"},
      "encoding": {
        "x": {"datum": 0.44},
        "y": {"datum": 11.0107},
        "text": {"field": "t"}
      }
    }
  ]
},
{
  "width": 1625, "height": 97,
  "layer": [
    {
      "data": {"name": "macd"},
      "mark": {"type": "bar", "size": 4, "color": "#A9A9A9", "clip": true},
      "encoding": {
        "x": {"field": "i", "type": "quantitative", "scale": {"domain": [-0.0625, 203.0625], "nice": false, "zero": false, "padding": 0}, "axis": null},
        "y": {"field": "h", "type": "quantitative", "scale": {"domain": [-0.050335, 0.09984], "nice": false, "zero": false, "padding": 0},
              "axis": {"orient": "right", "title": null, "values": [-0.050335, 0, 0.09984], "format": ".6f", "tickSize": 4, "labelPadding": 3, "labelFlush": true, "labelOverlap": false}},
        "y2": {"datum": 0}
      }
    },
    {
      "data": {"name": "signal"},
      "mark": {"type": "line", "color": "#FF0000", "strokeDash": [2, 2], "strokeWidth": 1.3, "clip": true},
      "encoding": {
        "x": {"field": "i", "type": "quantitative", "axis": null},
        "y": {"field": "s", "type": "quantitative",
              "axis": {"orient": "right", "title": null, "values": [-0.050335, 0, 0.09984], "format": ".6f", "tickSize": 4, "labelPadding": 3, "labelFlush": true, "labelOverlap": false}}
      }
    },
    {
      "data": {"values": [{"t": "MACD(12,26,9) -0.030412 -0.024201"}]},
      "mark": {"type": "text", "align": "left", "baseline": "middle", "fontSize": 9.5, "font": "Liberation Sans", "color": "#000000"},
      "encoding": {"x": {"datum": 0.44}, "y": {"datum": 0.0844}, "text": {"field": "t"}}
    },
    {
      "data": {"values": [{"t": "MACD below trigger in negative area"}]},
      "mark": {"type": "text", "align": "left", "baseline": "alphabetic", "fontSize": 19, "font": "Liberation Sans", "color": "#000000"},
      "encoding": {"x": {"datum": 158.96}, "y": {"datum": 0.01827}, "text": {"field": "t"}}
    }
  ]
},
{
  "width": 1625, "height": 94,
  "layer": [
    {
      "data": {"name": "rsilev"},
      "mark": {"type": "rule", "color": "#B0B0B0", "strokeDash": [3, 3], "strokeWidth": 1},
      "encoding": {
        "y": {"field": "r", "type": "quantitative", "scale": {"domain": [0, 100], "nice": false, "zero": false, "padding": 0},
              "axis": {"orient": "right", "title": null, "values": [0, 30, 50, 70, 100], "format": ".2f", "tickSize": 4, "labelPadding": 3, "labelFlush": true, "labelOverlap": false}}
      }
    },
    {
      "data": {"name": "rsi"},
      "mark": {"type": "line", "color": "#1E1EFF", "strokeWidth": 1, "clip": true},
      "encoding": {
        "x": {"field": "i", "type": "quantitative", "scale": {"domain": [-0.0625, 203.0625], "nice": false, "zero": false, "padding": 0},
              "axis": {"orient": "bottom", "title": null, "values": [0,8,16,24,32,40,48,56,64,72,80,88,96,104,112,120,128,136,144,152,160],
                       "labelExpr": "['12 Apr 2019','24 Apr 2019','6 May 2019','16 May 2019','28 May 2019','7 Jun 2019','19 Jun 2019','1 Jul 2019','11 Jul 2019','23 Jul 2019','2 Aug 2019','14 Aug 2019','26 Aug 2019','5 Sep 2019','17 Sep 2019','27 Sep 2019','9 Oct 2019','21 Oct 2019','30 Oct 2019','11 Nov 2019','21 Nov 2019'][round(datum.value/8)]",
                       "labelAlign": "left", "labelBaseline": "top", "labelPadding": 2, "tickSize": 3, "labelOverlap": false, "labelFlush": false, "labelBound": false}},
        "y": {"field": "r", "type": "quantitative",
              "axis": {"orient": "right", "title": null, "values": [0, 30, 50, 70, 100], "format": ".2f", "tickSize": 4, "labelPadding": 3, "labelFlush": true, "labelOverlap": false}}
      }
    },
    {
      "data": {"values": [{"t": "RSI(14) 35.93"}]},
      "mark": {"type": "text", "align": "left", "baseline": "middle", "fontSize": 9.5, "font": "Liberation Sans", "color": "#000000"},
      "encoding": {"x": {"datum": 0.44}, "y": {"datum": 89.6}, "text": {"field": "t"}}
    },
    {
      "data": {"values": [{"t": "RSI turns up near 30-level"}]},
      "mark": {"type": "text", "align": "left", "baseline": "alphabetic", "fontSize": 19, "font": "Liberation Sans", "color": "#000000"},
      "encoding": {"x": {"datum": 171.9}, "y": {"datum": 36.2}, "text": {"field": "t"}}
    }
  ]
}
]
}
